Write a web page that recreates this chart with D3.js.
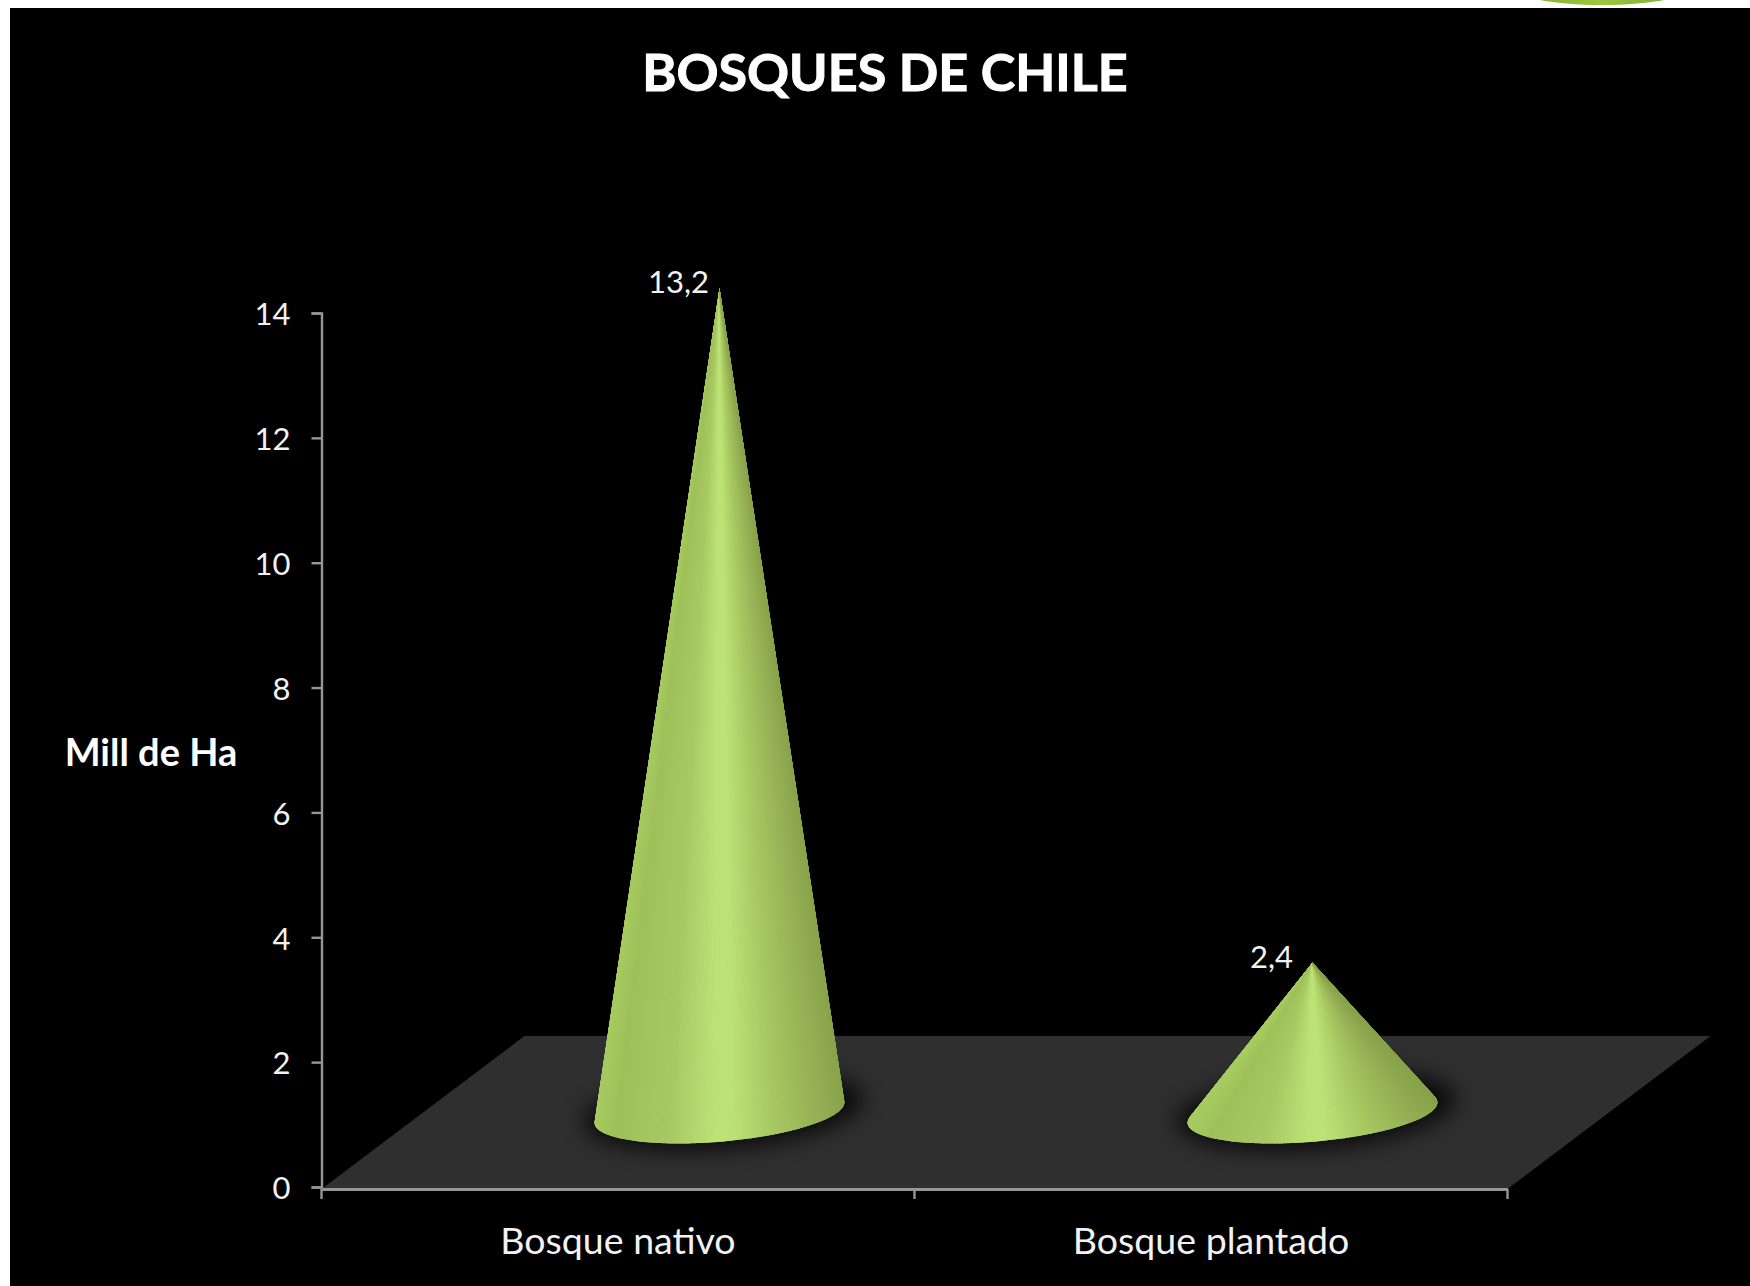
<!DOCTYPE html>
<html><head><meta charset="utf-8">
<script src="https://cdn.jsdelivr.net/npm/d3@7"></script>
<style>html,body{margin:0;padding:0;background:#fff}svg{display:block}text{font-family:Lato,"Open Sans",sans-serif;fill:#f2f2f2}</style>
</head><body><svg id="c" width="1750" height="1286"></svg>
<script>
const categories = ["Bosque nativo", "Bosque plantado"];
const seriesValues = [13.2, 2.4];
const valueLabels = ["13,2", "2,4"];
const yTicks = [0, 2, 4, 6, 8, 10, 12, 14];
const chartTitle = "BOSQUES DE CHILE";
const yTitle = "Mill de Ha";

const svg = d3.select("#c");
const W = 1750, H = 1286;
const x = d3.scaleBand().domain(categories).range([321.5, 1507.5]).padding(0);
const y = d3.scaleLinear().domain([0, 14]).range([1187, 313]);
const floorY = 1189;
const depth = {dx: 203, dy: -153};
const defs = svg.append("defs");
defs.append("filter").attr("id","blur").attr("filterUnits","userSpaceOnUse")
  .attr("x",0).attr("y",900).attr("width",W).attr("height",386)
  .append("feGaussianBlur").attr("stdDeviation", 11);
const logo = defs.append("linearGradient").attr("id","logo");
[["0","#7fae35"],["0.5","#9cc63f"],["1","#74a52f"]].forEach(s=>logo.append("stop").attr("offset",s[0]).attr("stop-color",s[1]));

// page and backdrop
svg.append("rect").attr("width",W).attr("height",H).attr("fill","#fff");
svg.append("ellipse").attr("cx",1602).attr("cy",-14).attr("rx",92).attr("ry",19).attr("fill","url(#logo)");
svg.append("rect").attr("x",10).attr("y",8).attr("width",W-10).attr("height",H-8).attr("fill","#000");

// floor
const x0 = x.range()[0], x1 = x.range()[1];
svg.append("path").attr("fill","#2f2f2f")
  .attr("d", d3.line()([[x0,floorY],[x1,floorY],[x1+depth.dx,floorY+depth.dy],[x0+depth.dx,floorY+depth.dy]])+"Z");

// cones
const A = 118, Bx = 41, By = 31;
const shade = d3.scaleLinear()
  .domain([0, 0.08, 0.3, 0.48, 0.55, 0.72, 0.92, 1])
  .range(["#a6cb60", "#9fc05a", "#a8ca64", "#bde276", "#bde276", "#a8c862", "#93ad54", "#8aa44c"]);
categories.forEach((c,i)=>{
  const cx = x(c) + x.bandwidth()/2 + depth.dx/2;
  const cy = floorY + depth.dy/2;
  const apex = [cx, y(seriesValues[i]) + (floorY - y(0)) + depth.dy/2];
  const pts = d3.range(0, 360).map(d=>{
    const t = d*Math.PI/180;
    return [cx + A*Math.cos(t) - Bx*Math.sin(t), cy + By*Math.sin(t)];
  });
  svg.append("ellipse").attr("cx",cx+4).attr("cy",cy-2).attr("rx",140).attr("ry",38)
    .attr("transform",`rotate(-5 ${cx} ${cy})`)
    .attr("fill","#000").attr("opacity",0.8).attr("filter","url(#blur)");
  const hull = d3.polygonHull([apex, ...pts]);
  const ai = hull.findIndex(p=>p[0]===apex[0]&&p[1]===apex[1]);
  const arc = hull.slice(ai+1).concat(hull.slice(0,ai));
  if (arc[0][0] > arc[arc.length-1][0]) arc.reverse();
  const clipId = "clip"+i;
  defs.append("clipPath").attr("id",clipId).append("path").attr("d", d3.line()(hull)+"Z");
  const g = svg.append("g").attr("clip-path",`url(#${clipId})`);
  const xL = arc[0][0], xR = arc[arc.length-1][0];
  for (let k=0;k<arc.length-1;k++){
    const col = shade((arc[k][0]-xL)/(xR-xL));
    g.append("path").attr("d", d3.line()([apex,arc[k],arc[k+1]])+"Z").attr("fill",col).attr("stroke",col).attr("stroke-width",1.2);
  }
  svg.append("text").attr("x",apex[0]-41).attr("y",apex[1]+5).attr("text-anchor","middle")
    .attr("font-size",31).text(valueLabels[i]);
});

// axes
const axisColor = "#969696";
const gy = svg.append("g").attr("transform",`translate(${x0},0)`)
  .call(d3.axisLeft(y).tickValues(yTicks).tickSize(10).tickPadding(21).tickFormat(d3.format("d")));
gy.selectAll("path,line").attr("stroke",axisColor).attr("stroke-width",2.4);
gy.selectAll("text").attr("font-size",31).attr("dy","0.38em").style("font-family","Lato,sans-serif").attr("fill","#f2f2f2");
const gx = svg.append("g").attr("transform",`translate(0,${floorY})`)
  .call(d3.axisBottom(x).tickValues(categories).tickSize(0).tickPadding(38));
gx.selectAll("path").attr("stroke",axisColor).attr("stroke-width",3);
gx.selectAll("text").attr("font-size",37.5).style("font-family","Lato,sans-serif").attr("fill","#f2f2f2");
gx.selectAll("g.bound").data(x.range().concat(x0+x.bandwidth())).enter().append("line")
  .attr("x1",d=>d).attr("x2",d=>d).attr("y1",0).attr("y2",10).attr("stroke",axisColor).attr("stroke-width",2.4);

// titles
svg.append("text").attr("x",885).attr("y",91).attr("text-anchor","middle").attr("font-size",52).attr("font-weight",700)
  .style("fill","#fff").style("stroke","#fff").style("stroke-width",1).text(chartTitle);
svg.append("text").attr("x",151).attr("y",766).attr("text-anchor","middle").attr("font-size",38).attr("font-weight",700).style("fill","#fff").text(yTitle);
</script></body></html>
